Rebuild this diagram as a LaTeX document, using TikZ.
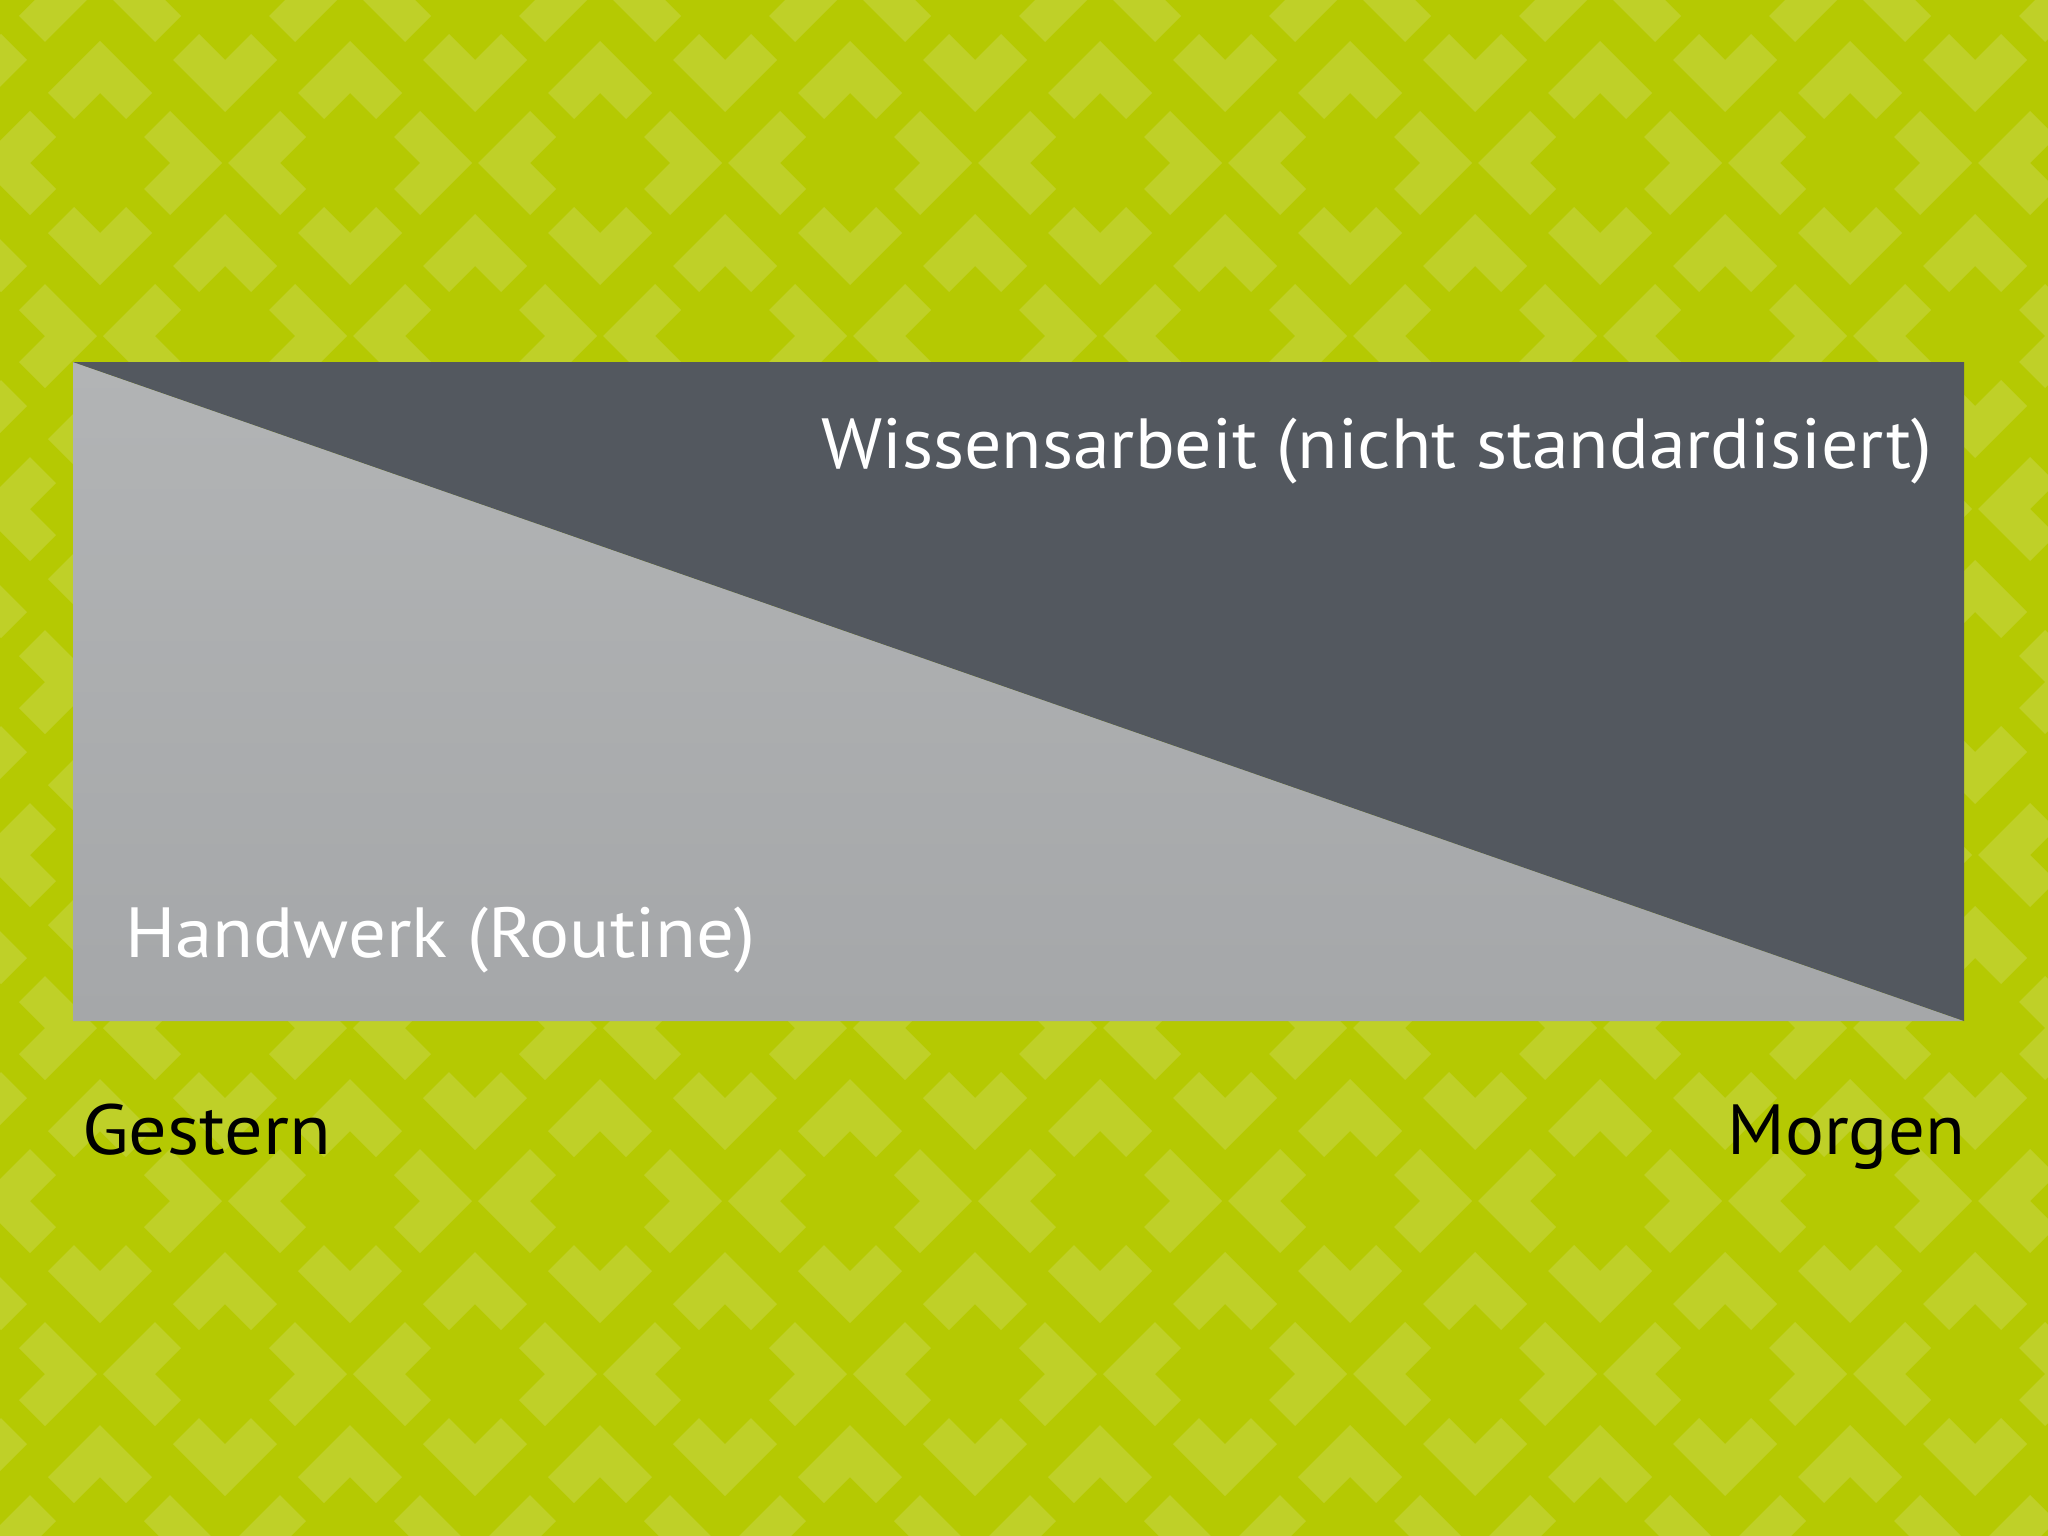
\documentclass[tikz,border=0pt]{standalone}
\usepackage{fontspec}
\setmainfont{PT Sans}
\definecolor{bgc}{RGB}{181,201,2}
\definecolor{chevc}{RGB}{191,208,40}
\definecolor{darkc}{RGB}{83,88,95}
\definecolor{lighttop}{RGB}{178,180,181}
\definecolor{lightbot}{RGB}{165,167,169}
\tikzset{
  chev/.style={fill=chevc},
  lbl/.style={inner sep=0pt, font=\fontsize{71}{80}\selectfont},
}
\begin{document}
\begin{tikzpicture}[x=1pt,y=-1pt]
\useasboundingbox (0,0) rectangle (2048,1536);
\fill[bgc] (0,0) rectangle (2048,1536);
\begin{scope}
\clip (0,0) rectangle (2048,1536);
\foreach \k in {-1,...,8}{
  \foreach \i in {-1,...,8}{
    \pgfmathsetmacro\ox{100+250*\i+125*Mod(\k,2)}
    \pgfmathsetmacro\oy{163+173*\k}
    \foreach \r in {0,90,180,270}{
      \fill[chev, shift={(\ox,\oy)}, rotate=\r] (122,0) -- (70,52) -- (44,26) -- (70,0) -- (44,-26) -- (70,-52) -- cycle;
    }
  }
}
\end{scope}
\coordinate (tl) at (73,362);
\coordinate (tr) at (1964,362);
\coordinate (bl) at (73,1021);
\coordinate (br) at (1964,1021);
\shade[top color=lighttop, bottom color=lightbot] (tl) -- (bl) -- (br) -- cycle;
\fill[darkc] (tl) -- (tr) -- (br) -- cycle;
\node[lbl, text=white, anchor=base west] (wiss) at (821,468) {\scalebox{1.04}[1]{Wissensarbeit (nicht standardisiert)}};
\node[lbl, text=white, anchor=base west] (hand) at (125,957) {\scalebox{1.055}[1]{Handwerk (Routine)}};
\node[lbl, text=black, anchor=base west] (gest) at (82,1154) {\scalebox{1.075}[1]{Gestern}};
\node[lbl, text=black, anchor=base east] (morg) at (1965,1154) {\scalebox{1.025}[1]{Morgen}};
\end{tikzpicture}
\end{document}
